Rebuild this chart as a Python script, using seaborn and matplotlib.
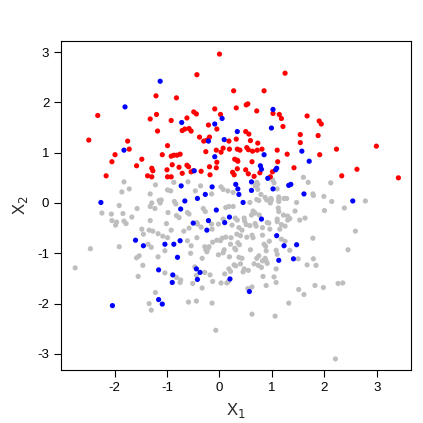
import numpy as np
import pandas as pd
import matplotlib
matplotlib.use("Agg")
import matplotlib.pyplot as plt
import seaborn as sns

# ---- data (X1, X2) ----
red_x = [-2.32, -2.49, -1.75, -1.72, -1.32, 0.00, -0.43, 0.27, -1.21, -0.82, -0.09, 0.32, -0.49, -0.44,
         -1.20, 0.02, -0.62, -0.92, -0.21, -0.66, -0.71, -0.58, -0.54, -0.05, -1.18, -0.38, -0.19, -0.24,
         -0.30, 0.18, 0.32, -0.99, -0.06, 0.03, 0.07, 0.19, 0.34, -0.26, 1.25, 0.85, 0.51, 0.54, 0.71,
         1.02, 1.14, 1.18, 1.67, 1.90, 1.94, 1.21, 0.50, 0.56, 0.59, 0.73, 1.54, 1.54, 1.88, 0.39, 0.52,
         0.55, 0.63, 0.72, 0.81, 1.10, 2.23, 2.99, -1.99, -1.48, -2.05, -1.58, -2.16, -1.37, -1.09, -0.92,
         -0.87, -0.81, -0.75, -0.05, 0.29, -1.29, -1.27, -0.90, -0.77, -0.62, -0.59, -0.19, -0.06, -1.00,
         -0.71, -0.54, -0.50, -0.35, -0.18, 0.25, 0.28, -1.29, -0.99, -0.92, 1.29, 1.91, 0.34, 0.35, 0.62,
         1.11, 0.34, 0.50, 0.55, 0.77, 1.42, 1.01, 0.97, 0.66, 2.62, 2.33, 3.41]
red_y = [1.74, 1.25, 1.23, 1.07, 1.67, 2.96, 2.55, 2.23, 2.13, 2.09, 1.87, 1.89, 1.81, 1.77,
         1.76, 1.76, 1.69, 1.64, 1.55, 1.47, 1.44, 1.48, 1.43, 1.47, 1.43, 1.31, 1.31, 1.25,
         1.23, 1.23, 1.27, 1.14, 1.05, 1.01, 1.09, 1.07, 1.07, 1.02, 2.58, 2.23, 1.95, 1.97, 1.83,
         1.78, 1.76, 1.68, 1.73, 1.63, 1.57, 1.52, 1.42, 1.37, 1.24, 1.19, 1.36, 1.20, 1.34, 1.05, 1.10,
         1.06, 1.03, 1.05, 1.07, 1.05, 1.07, 1.13, 0.96, 0.87, 0.82, 0.74, 0.54, 0.54, 0.96, 0.93,
         0.95, 0.95, 0.97, 0.81, 0.87, 0.69, 0.64, 0.76, 0.71, 0.75, 0.72, 0.72, 0.70, 0.66,
         0.59, 0.62, 0.64, 0.63, 0.56, 0.61, 0.56, 0.52, 0.52, 0.52, 0.97, 0.96, 0.85, 0.83, 0.82,
         0.82, 0.68, 0.66, 0.58, 0.60, 0.70, 0.62, 0.52, 0.53, 0.67, 0.54, 0.50]

blue_x = [-1.80, -1.82, -1.13, 0.05, -0.72, -0.09, 0.34, -0.21, 0.09, 1.02, 0.99, 1.57, -2.26, -1.60,
          -1.45, -0.09, -0.48, -0.73, -0.14, -0.27, -0.42, -0.66, 0.31, 0.35, -0.74, -0.06, -0.50, -0.21,
          0.10, 0.19, -0.24, -1.04, -0.87, -0.75, -0.80, 0.85, 0.78, 1.71, 0.80, 1.07, 1.09, 0.92, 0.61,
          1.32, 1.36, 1.02, 0.61, 1.61, 0.37, 0.45, 0.80, 1.09, 1.23, 1.47, 1.13, 1.41, 2.54, -2.04,
          -1.16, -0.89, -0.90, -0.44, -0.37, -0.42, 0.20, -1.16, -1.09, 0.57]
blue_y = [1.91, 1.05, 2.42, 1.68, 1.60, 1.57, 1.42, 1.23, 1.26, 1.86, 1.49, 1.03, 0.01, -0.74,
          -0.85, 0.92, 0.64, 0.34, 0.32, 0.17, 0.09, 0.04, 0.37, 0.28, -0.12, -0.14, -0.40, -0.35,
          -0.39, -0.28, -0.54, -0.82, -0.82, -0.75, -1.08, 0.96, 0.74, 0.83, 0.67, 0.66, 0.69, 0.49, 0.42,
          0.35, 0.37, 0.28, 0.25, 0.18, 0.17, 0.01, -0.32, -0.65, -0.85, -0.83, -1.14, -1.11, 0.04, -2.04,
          -1.33, -1.43, -1.58, -1.31, -1.38, -1.52, -1.51, -1.92, -2.01, -1.76]

gray_x = [-1.82, -1.86, -1.72, -1.91, -1.57, -2.24, -2.06, -1.84, -1.67, -2.05, -1.96, -1.98, -1.82, -1.78,
          -1.32, -1.48, -1.34, -1.45, -1.36, -2.46, -1.91, -1.53, -1.58, -1.22, -0.87, -0.60, -0.36, -0.46,
          -0.15, 0.03, 0.07, 0.16, 0.26, -1.32, -0.99, -0.93, -1.29, -1.15, -1.11, -1.13, -0.86, -0.83,
          -1.32, -1.23, -0.98, -0.61, -0.58, -0.31, -0.27, 0.12, 0.18, 0.26, -0.82, -0.77, -1.01, -0.43,
          -0.42, -0.15, 0.07, -0.02, 0.30, -0.58, -0.68, -0.35, -0.14, 0.24, -1.27, -0.92, -1.17, -0.99,
          -1.08, -0.61, 0.05, 0.12, 0.02, -0.05, -0.13, -0.43, -0.28, -0.20, -0.22, 0.22, 0.21, 0.33,
          -1.30, -0.54, -1.04, -1.17, -0.55, -0.33, -0.26, -0.24, -0.02, 0.09, 0.07, 0.29, 0.31, 0.19,
          0.71, 0.73, 0.68, 1.01, 1.04, 1.60, 1.69, 1.10, 0.73, 1.78, 1.79, 0.79, 0.87, 0.90, 0.75, 0.71,
          0.98, 0.99, 1.13, 1.13, 1.13, 1.23, 1.28, 0.58, 0.97, 1.47, 1.12, 1.13, 0.64, 0.68, 0.76, 0.61,
          2.00, 1.44, 1.22, 1.30, 1.30, 1.34, 1.53, 1.63, 0.47, 0.48, 0.51, 0.58, 0.34, 0.68, 0.70, 0.91,
          0.94, 1.18, 1.25, 1.10, 1.10, 0.82, 0.37, 0.43, 1.15, 0.96, 0.52, 0.62, 0.64, 0.82, 0.40, 0.95,
          1.78, 1.18, 1.25, 0.35, 0.38, 0.59, 0.85, 0.88, 0.89, 1.08, 1.34, 0.87, 1.10, 1.50, 0.37, 0.43,
          0.71, 0.75, 1.79, 2.12, 1.99, 2.14, 2.78, 2.38, 2.59, 2.45, -2.75, -1.46, -1.55, -1.34, -1.04,
          -0.82, -0.74, -0.75, -0.47, -0.44, -0.51, -0.28, -0.18, -0.33, -0.13, 0.03, 0.10, 0.18, 0.21,
          0.28, 0.31, 0.14, 0.17, -1.22, -1.30, -0.59, -0.44, -0.14, -0.07, 0.40, 0.47, 0.45, 0.55, 0.66,
          0.74, 0.80, 0.82, 0.89, 0.91, 1.08, 1.67, 1.84, 0.83, 1.04, 1.08, 0.54, 0.62, 0.89, 1.51, 1.61,
          1.82, 1.98, 1.32, 0.62, 1.06, 2.26, 2.35, 2.21]
gray_y = [0.42, 0.22, 0.28, -0.05, -0.11, -0.20, -0.22, -0.21, -0.28, -0.35, -0.38, -0.44, -0.36, -0.41,
          -0.35, -0.52, -0.54, -0.62, -0.82, -0.91, -0.87, -1.05, -1.09, 0.36, 0.41, 0.42, 0.34, 0.24,
          0.18, 0.32, 0.27, 0.24, 0.21, 0.18, 0.26, 0.24, 0.00, 0.05, 0.06, 0.00, 0.03, -0.02,
          -0.07, -0.11, -0.19, -0.19, -0.22, -0.11, -0.17, -0.09, -0.07, -0.07, -0.25, -0.29, -0.41, -0.39,
          -0.42, -0.42, -0.32, -0.42, -0.30, -0.50, -0.56, -0.48, -0.52, -0.44, -0.56, -0.54, -0.61, -0.69,
          -0.66, -0.75, -0.70, -0.68, -0.75, -0.74, -0.78, -0.69, -0.87, -0.87, -0.91, -0.69, -0.82, -0.62,
          -0.88, -0.85, -0.95, -1.07, -1.00, -1.10, -0.93, -0.97, -1.03, -0.93, -0.99, -0.90, -0.93, -1.07,
          0.41, 0.37, 0.34, 0.46, 0.40, 0.51, 0.41, 0.28, 0.27, 0.18, 0.15, 0.17, 0.11, 0.06, 0.05, 0.07,
          0.09, 0.06, 0.12, 0.07, 0.03, 0.09, 0.09, 0.01, 0.00, 0.01, -0.10, -0.17, -0.16, -0.20, -0.24, -0.24,
          -0.15, -0.16, -0.24, -0.26, -0.34, -0.31, -0.34, -0.30, -0.30, -0.36, -0.43, -0.45, -0.34, -0.41, -0.46, -0.39,
          -0.40, -0.43, -0.46, -0.32, -0.37, -0.49, -0.49, -0.54, -0.52, -0.52, -0.68, -0.64, -0.69, -0.64, -0.65, -0.76,
          -0.70, -0.72, -0.76, -0.79, -0.83, -0.93, -0.82, -0.86, -0.95, -0.94, -0.94, -1.10, -1.02, -1.11, -1.08, -1.10,
          -1.10, -1.05, -1.11, 0.40, 0.13, 0.03, 0.04, -0.10, -0.56, -0.93, -1.29, -1.24, -1.46, -2.00, -1.39,
          -1.48, -1.53, -1.58, -1.27, -1.44, -1.60, -1.38, -1.43, -1.69, -1.56, -1.59, -1.41, -1.31, -1.36,
          -1.23, -1.25, -1.59, -1.56, -1.78, -2.13, -1.97, -1.95, -1.99, -2.53, -1.21, -1.31, -1.37, -1.34, -1.21,
          -1.24, -1.28, -1.15, -1.15, -1.20, -1.31, -1.23, -1.24, -1.46, -1.47, -1.58, -1.70, -1.67, -1.64, -1.72, -1.82,
          -1.64, -1.68, -1.99, -2.21, -2.25, -1.60, -1.59, -3.10]

groups = ["gray", "red", "blue"]
colors = {"gray": "#BEBEBE", "red": "#FF0000", "blue": "#0000FF"}

df = pd.concat([
    pd.DataFrame({"X1": gray_x, "X2": gray_y, "grp": "gray"}),
    pd.DataFrame({"X1": red_x, "X2": red_y, "grp": "red"}),
    pd.DataFrame({"X1": blue_x, "X2": blue_y, "grp": "blue"}),
], ignore_index=True)

sns.set_style("white")
plt.rcParams["font.family"] = ["Liberation Sans", "DejaVu Sans"]

fig = plt.figure(figsize=(4.23, 4.23), dpi=100)
ax = fig.add_axes([61/423, 1 - 370/423, 350/423, 329/423])

sns.scatterplot(data=df, x="X1", y="X2", hue="grp", hue_order=groups, palette=colors,
                s=14, linewidth=0, legend=False, ax=ax)

ax.set_xlim(-3.02, 3.65)
ax.set_ylim(-3.32, 3.22)
ax.set_xticks([-2, -1, 0, 1, 2, 3])
ax.set_yticks([-3, -2, -1, 0, 1, 2, 3])
ax.set_xticklabels(["-2", "-1", "0", "1", "2", "3"])
ax.set_yticklabels(["-3", "-2", "-1", "0", "1", "2", "3"])
ax.tick_params(axis="both", direction="out", length=5, width=0.8, labelsize=9.5, colors="black",
               left=True, bottom=True)
for sp in ax.spines.values():
    sp.set_visible(True)
    sp.set_color("black")
    sp.set_linewidth(0.8)
ax.set_xlabel(r"X$_1$", fontsize=12, labelpad=5)
ax.set_ylabel(r"X$_2$", fontsize=12, labelpad=5)

fig.savefig("out.png", dpi=100)
